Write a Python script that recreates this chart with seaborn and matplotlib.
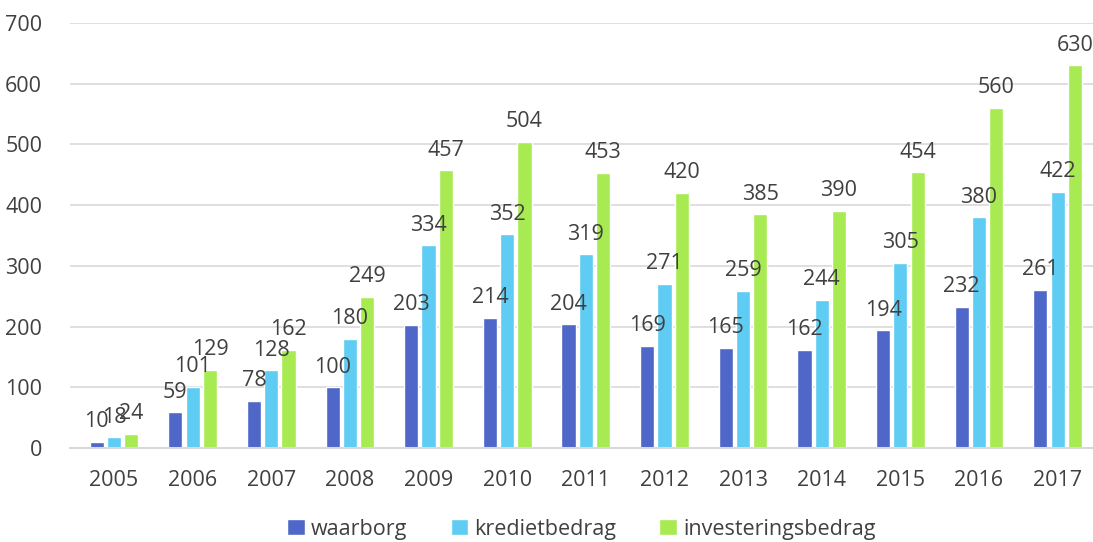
import pandas as pd
import numpy as np
import matplotlib.pyplot as plt
import seaborn as sns

years = ['2005', '2006', '2007', '2008', '2009', '2010', '2011',
         '2012', '2013', '2014', '2015', '2016', '2017']
waarborg = [10, 59, 78, 100, 203, 214, 204, 169, 165, 162, 194, 232, 261]
kredietbedrag = [18, 101, 128, 180, 334, 352, 319, 271, 259, 244, 305, 380, 422]
investeringsbedrag = [24, 129, 162, 249, 457, 504, 453, 420, 385, 390, 454, 560, 630]
series = ['waarborg', 'kredietbedrag', 'investeringsbedrag']
colors = ['#4E67C8', '#5ECCF3', '#A7EA52']

df = pd.DataFrame({'jaar': years * 3,
                   'bedrag': waarborg + kredietbedrag + investeringsbedrag,
                   'reeks': np.repeat(series, len(years))})

sns.set_style('white')
plt.rcParams['font.family'] = ['Open Sans', 'DejaVu Sans']
txt = '#404040'

fig = plt.figure(figsize=(10.93, 5.42), dpi=100)
ax = fig.add_axes([0.064, 0.173, 0.936, 0.785])
sns.barplot(data=df, x='jaar', y='bedrag', hue='reeks', palette=colors,
            width=0.66, gap=0.18, ax=ax, legend=True, saturation=1)

for cont in ax.containers:
    ax.bar_label(cont, padding=7, fontsize=15.5, color=txt)

ax.set_ylim(0, 700)
ax.set_xlim(-0.56, 12.45)
ax.set_yticks(range(0, 701, 100))
ax.yaxis.grid(True, color='#D9D9D9', linewidth=1.2)
ax.set_axisbelow(True)
for s in ['top', 'right', 'left']:
    ax.spines[s].set_visible(False)
ax.spines['bottom'].set_color('#D9D9D9')
ax.spines['bottom'].set_linewidth(1.5)
ax.tick_params(axis='both', length=0, labelsize=15.5, labelcolor=txt)
ax.tick_params(axis='x', pad=16)
ax.tick_params(axis='y', pad=20)
ax.set_xlabel('')
ax.set_ylabel('')

ax.legend(loc='center', bbox_to_anchor=(0.5, -0.19), ncol=3, frameon=False,
          fontsize=15.5, handlelength=0.8, handleheight=0.8, handletextpad=0.3,
          columnspacing=2.0, labelcolor=txt, borderpad=0)

plt.savefig('out.png', dpi=100)
